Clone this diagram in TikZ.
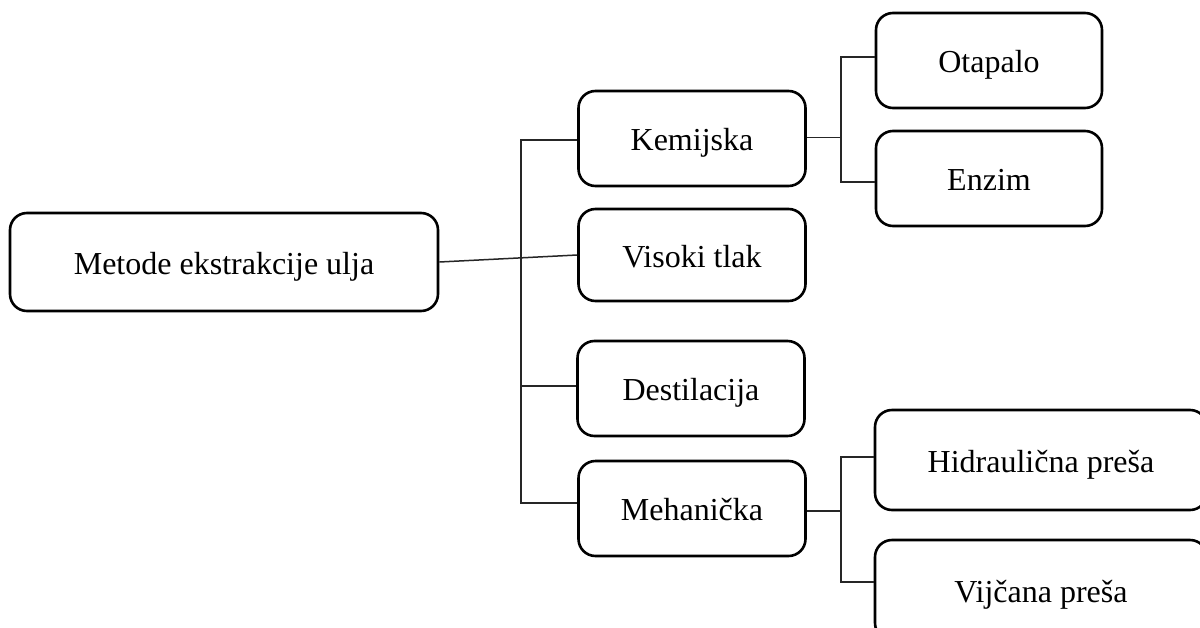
\documentclass[tikz,border=0pt]{standalone}
\usepackage{fontspec}
\setmainfont{Liberation Serif}
\usetikzlibrary{calc}
\begin{document}
\begin{tikzpicture}[x=1pt,y=-1pt,
  box/.style={draw=black, line width=2.6pt, rounded corners=17pt, fill=white,
    inner sep=0pt, font=\fontsize{32}{38}\selectfont, text=black,
    text height=24pt, text depth=0pt},
  conn/.style={draw=black!85, line width=1.5pt}]
\useasboundingbox (0,0) rectangle (1200,627);
\clip (0,0) rectangle (1200,627);
\fill[white] (0,0) rectangle (1200,627);
% nodes
\node[box, minimum width=428pt, minimum height=98pt] (root) at (224,262) {Metode ekstrakcije ulja};
\node[box, minimum width=227pt, minimum height=95pt] (kem) at (692,138.5) {Kemijska};
\node[box, minimum width=227pt, minimum height=92pt] (vis) at (692,255) {Visoki tlak};
\node[box, minimum width=227pt, minimum height=95pt] (des) at (691,388.5) {Destilacija};
\node[box, minimum width=227pt, minimum height=95pt] (meh) at (692,508.5) {Mehanička};
\node[box, minimum width=226pt, minimum height=95pt] (ota) at (989,60.5) {Otapalo};
\node[box, minimum width=226pt, minimum height=95pt] (enz) at (989,178.5) {Enzim};
\node[box, minimum width=332pt, minimum height=100pt] (hid) at (1041,460) {Hidraulična preša};
\node[box, minimum width=332pt, minimum height=100pt] (vij) at (1041,590) {Vijčana preša};
% trunk coordinates
\coordinate (t1) at (521,0);
\coordinate (t2) at (841,0);
\coordinate (k1) at ($(kem.west)+(0,1.5)$);
\coordinate (m1) at ($(meh.west)+(0,-5.5)$);
\coordinate (d1) at ($(des.west)+(0,-2.5)$);
\coordinate (k2) at ($(kem.east)+(0,-1)$);
\coordinate (o1) at ($(ota.west)+(0,-3.5)$);
\coordinate (e1) at ($(enz.west)+(0,3.5)$);
\coordinate (m2) at ($(meh.east)+(0,2.5)$);
\coordinate (h1) at ($(hid.west)+(0,-3)$);
\coordinate (v1) at ($(vij.west)+(0,-8)$);
% root to level 1
\draw[conn] (root.east) -- (vis.west);
\draw[conn] (k1) -- (k1 -| t1) -- (m1 -| t1) -- (m1);
\draw[conn] (d1 -| t1) -- (d1);
% Kemijska branch
\draw[conn] (k2) -- (k2 -| t2);
\draw[conn] (o1) -- (o1 -| t2) -- (e1 -| t2) -- (e1);
% Mehanicka branch
\draw[conn] (m2) -- (m2 -| t2);
\draw[conn] (h1) -- (h1 -| t2) -- (v1 -| t2) -- (v1);
\end{tikzpicture}
\end{document}
